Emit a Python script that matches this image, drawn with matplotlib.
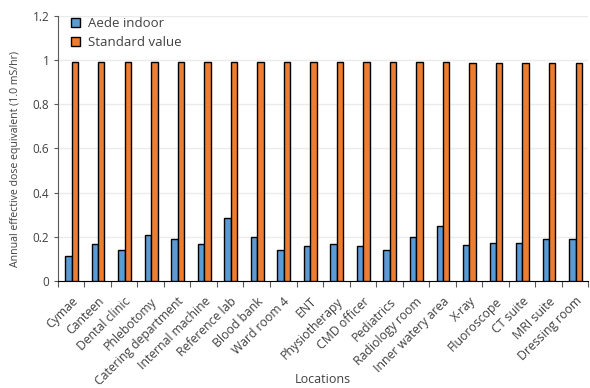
import numpy as np
from matplotlib import pyplot as plt

# chart data
locations = ["Cymae", "Canteen", "Dental clinic", "Phlebotomy", "Catering department",
             "Internal machine", "Reference lab", "Blood bank", "Ward room 4", "ENT",
             "Physiotherapy", "CMD officer", "Pediatrics", "Radiology room",
             "Inner watery area", "X-ray", "Fluoroscope", "CT suite", "MRI suite",
             "Dressing room"]
aede_indoor = [0.114, 0.168, 0.142, 0.209, 0.191, 0.168, 0.287, 0.200, 0.142, 0.159,
               0.168, 0.159, 0.142, 0.200, 0.250, 0.163, 0.172, 0.172, 0.191, 0.191]
standard_value = [0.99] * 15 + [0.985] * 5
y_ticks = [0, 0.2, 0.4, 0.6, 0.8, 1, 1.2]
y_tick_labels = ["0", "0.2", "0.4", "0.6", "0.8", "1", "1.2"]

txt = "#404040"
fnt = "Open Sans"
fig = plt.figure(figsize=(5.9, 3.88), dpi=100)
ax = fig.add_axes([0.098, 0.276, 0.899, 0.683])

x = np.arange(len(locations))
w = 0.24
ax.bar(x - w / 2 + 0.02, aede_indoor, w, color="#5B9BD5", edgecolor="black",
       linewidth=1, label="Aede indoor", zorder=3)
ax.bar(x + w / 2 + 0.02, standard_value, w, color="#ED7D31", edgecolor="black",
       linewidth=1, label="Standard value", zorder=3)

ax.set_xlim(-0.5, len(locations) - 0.5)
ax.set_ylim(0, 1.2)
ax.set_yticks(y_ticks)
ax.set_yticklabels(y_tick_labels, fontsize=8.5, color=txt, family=fnt)
ax.set_xticks(x)
ax.set_xticklabels(locations, rotation=45, ha="right", rotation_mode="anchor",
                   fontsize=8.8, color=txt, family=fnt)
ax.set_xticks(np.arange(-0.5, len(locations), 1), minor=True)
ax.tick_params(axis="x", which="major", length=0, pad=10)
ax.tick_params(axis="x", which="minor", length=4, width=0.8, color="#595959")
ax.tick_params(axis="y", length=3, width=0.8, color="#595959", pad=3)

ax.grid(axis="y", color="#ebebeb", linewidth=1, zorder=0)
for s in ["top", "right"]:
    ax.spines[s].set_visible(False)
ax.spines["left"].set_color("#595959")
ax.spines["bottom"].set_color("#000000")
ax.spines["left"].set_linewidth(0.8)
ax.spines["bottom"].set_linewidth(0.8)

ax.set_ylabel("Annual effective dose equivalent (1.0 mS/hr)", fontsize=7.6,
              color=txt, family=fnt)
ax.yaxis.set_label_coords(-0.07, 0.46)
ax.set_xlabel("Locations", fontsize=9, color=txt, family=fnt)
ax.xaxis.set_label_coords(0.5, -0.347)

leg = ax.legend(loc="upper left", frameon=False, handlelength=0.7,
                handleheight=0.7, handletextpad=0.6, borderaxespad=0.0,
                labelspacing=0.45, bbox_to_anchor=(0.014, 1.015),
                prop={"family": fnt, "size": 9.5})
for t in leg.get_texts():
    t.set_color(txt)

plt.savefig("out.png", dpi=100)
